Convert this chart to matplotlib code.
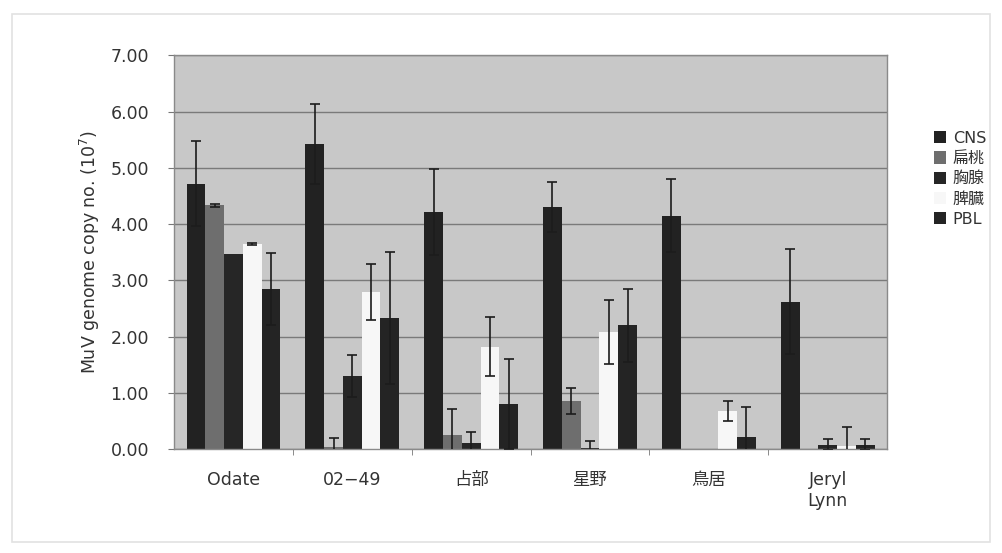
import matplotlib.pyplot as plt
import numpy as np
from matplotlib.patches import Rectangle

plt.rcParams['font.family'] = ['DejaVu Sans', 'Noto Sans CJK JP']

strains = ["Odate", "02\u221249", "占部", "星野", "鳥居", "Jeryl\nLynn"]
tissues = ["CNS", "扁桃", "胸腺", "脾臓", "PBL"]

# mean values per tissue, one entry per strain
cns = [4.72, 5.42, 4.21, 4.30, 4.15, 2.62]
tonsil = [4.33, 0.03, 0.25, 0.85, 0.00, 0.00]
thymus = [3.46, 1.30, 0.10, 0.01, 0.00, 0.08]
spleen = [3.64, 2.79, 1.82, 2.08, 0.68, 0.05]
pbl = [2.84, 2.33, 0.80, 2.20, 0.22, 0.08]

# error (SD)
cns_err = [0.76, 0.71, 0.76, 0.45, 0.65, 0.93]
tonsil_err = [0.02, 0.17, 0.47, 0.23, 0.00, 0.00]
thymus_err = [0.00, 0.37, 0.20, 0.14, 0.00, 0.10]
spleen_err = [0.02, 0.50, 0.53, 0.57, 0.18, 0.35]
pbl_err = [0.64, 1.17, 0.80, 0.65, 0.53, 0.10]

values = [cns, tonsil, thymus, spleen, pbl]
errors = [cns_err, tonsil_err, thymus_err, spleen_err, pbl_err]
colors = ["#222222", "#6e6e6e", "#262626", "#f7f7f7", "#242424"]

fig = plt.figure(figsize=(10.03, 5.53), dpi=100)
fig.patches.append(Rectangle((0.012, 0.02), 0.975, 0.955, transform=fig.transFigure,
                             fill=False, edgecolor="#e2e2e2", linewidth=1.2))
ax = fig.add_axes([0.1735, 0.188, 0.711, 0.712])
ax.set_facecolor("#c8c8c8")

x = np.arange(len(strains))
w = 0.158
for i, (vals, errs) in enumerate(zip(values, errors)):
    pos = x + (i - 2) * w
    ax.bar(pos, vals, w, color=colors[i], label=tissues[i], zorder=2)
    v = np.array(vals)
    e = np.array(errs)
    keep = e > 0
    ax.errorbar(pos[keep], v[keep], yerr=e[keep], fmt="none", ecolor="#1c1c1c",
                elinewidth=1.2, capsize=3.5, capthick=1.2, zorder=3)

ax.set_ylim(0, 7)
ax.set_xlim(-0.5, len(strains) - 0.5)
ax.set_yticks(np.arange(0, 7.01, 1))
ax.set_yticklabels([f"{v:.2f}" for v in np.arange(0, 7.01, 1)])
ax.yaxis.grid(True, color="#7a7a7a", linewidth=1.0, zorder=1)
ax.set_axisbelow(True)

ax.set_xticks(x)
ax.set_xticklabels(strains, fontsize=12.5, color="#333333", va="top")
ax.set_xticks(np.arange(0.5, len(strains) - 0.5, 1), minor=True)
ax.tick_params(axis="x", which="major", length=0, pad=16)
ax.tick_params(axis="x", which="minor", length=4, color="#777777")
ax.tick_params(axis="y", length=4, color="#777777", labelsize=12.5,
               labelcolor="#333333", pad=14)

for side in ["left", "bottom", "right", "top"]:
    ax.spines[side].set_color("#8a8a8a")
    ax.spines[side].set_linewidth(1.0)

ax.set_ylabel("MuV genome copy no. (10$^7$)", fontsize=12.5, color="#333333", labelpad=6)

leg = ax.legend(loc="upper left", bbox_to_anchor=(1.045, 0.845), frameon=False,
                fontsize=11.5, handlelength=0.8, handleheight=0.8,
                handletextpad=0.4, labelspacing=0.33)
for t in leg.get_texts():
    t.set_color("#333333")

fig.savefig("out.png", dpi=100)
